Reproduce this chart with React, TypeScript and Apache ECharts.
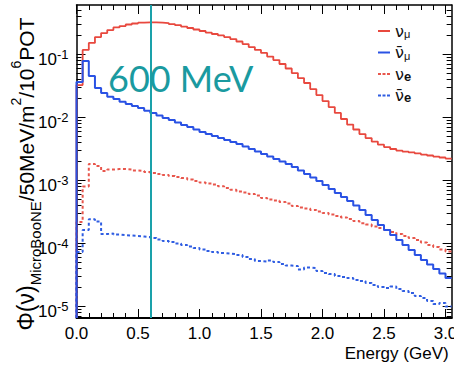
import React, { useEffect, useRef } from 'react';
import * as echarts from 'echarts';

// Flux histograms, 50 MeV bins starting at 0 GeV (values per bin)
const BIN_WIDTH = 0.05;

const NUMU = [
  0.0322, 0.116, 0.150, 0.186, 0.215, 0.240, 0.264, 0.278, 0.294, 0.305,
  0.314, 0.318, 0.318, 0.316, 0.310, 0.299, 0.288, 0.273, 0.259, 0.245,
  0.232, 0.219, 0.208, 0.197, 0.186, 0.173, 0.158, 0.144, 0.129, 0.116,
  0.104, 0.0912, 0.0803, 0.0694, 0.0589, 0.0499, 0.0416, 0.0347, 0.0278, 0.0223,
  0.0179, 0.0144, 0.0116, 0.0093, 0.0076, 0.00634, 0.00537, 0.00464, 0.00408, 0.00366,
  0.00334, 0.00311, 0.00294, 0.00283, 0.00274, 0.00264, 0.00254, 0.00245, 0.00236, 0.00228, 0.00219,
];

const NUMUBAR = [
  0.036, 0.0774, 0.0448, 0.0288, 0.0240, 0.0210, 0.0193, 0.0175, 0.0161, 0.0150,
  0.0139, 0.0126, 0.01157, 0.01056, 0.00964, 0.00896, 0.00818, 0.00747, 0.00694, 0.00634,
  0.00578, 0.00537, 0.00499, 0.00464, 0.00431, 0.00401, 0.00373, 0.00340, 0.00311, 0.00283,
  0.00259, 0.00236, 0.00216, 0.00197, 0.00180, 0.00161, 0.00142, 0.00125, 0.00110, 0.000964,
  0.000834, 0.000720, 0.000622, 0.000537, 0.000464, 0.000394, 0.000334, 0.000278, 0.000232, 0.000193,
  0.000161, 0.000134, 0.000112, 0.0000930, 0.0000774, 0.0000645, 0.0000537, 0.0000456, 0.0000387, 0.0000328, 0.0000278,
];

const NUE = [
  0.000216, 0.000789, 0.001795, 0.001667, 0.001389, 0.001469, 0.001496, 0.001496, 0.001469, 0.001416,
  0.001389, 0.001339, 0.001291, 0.001245, 0.001200, 0.001157, 0.001116, 0.001076, 0.001019, 0.000964,
  0.000913, 0.000880, 0.000849, 0.000795, 0.000745, 0.000700, 0.000657, 0.000633, 0.000599, 0.000567,
  0.000518, 0.000490, 0.000473, 0.000448, 0.000424, 0.000387, 0.000366, 0.000353, 0.000334, 0.000316,
  0.000299, 0.000283, 0.000268, 0.000254, 0.000240, 0.000223, 0.000207, 0.000197, 0.000183, 0.000173,
  0.000161, 0.000150, 0.000139, 0.000129, 0.000120, 0.000112, 0.000102, 0.0000930, 0.0000865, 0.0000789, 0.0000733,
];

const NUEBAR = [
  0.0000719, 0.000161, 0.000238, 0.000219, 0.000139, 0.0001416, 0.0001365, 0.000134, 0.0001315, 0.000129,
  0.0001268, 0.0001245, 0.0001200, 0.0001136, 0.0001076, 0.0001037, 0.0000982, 0.0000930, 0.0000880, 0.0000833,
  0.0000789, 0.0000747, 0.0000719, 0.0000694, 0.0000681, 0.0000669, 0.0000645, 0.0000600, 0.0000557, 0.0000518,
  0.0000508, 0.0000527, 0.0000499, 0.0000464, 0.0000439, 0.0000431, 0.0000380, 0.0000408, 0.0000401, 0.0000359,
  0.0000334, 0.0000322, 0.0000299, 0.0000289, 0.0000278, 0.0000259, 0.0000249, 0.0000232, 0.0000216, 0.0000200,
  0.0000193, 0.0000204, 0.0000186, 0.0000173, 0.0000161, 0.0000144, 0.0000134, 0.0000120, 0.0000108, 0.0000112, 0.0000098,
];

const SERIES_NAMES = ['νμ', 'ν̄μ', 'νe', 'ν̄e'];

const X_MIN = 0;
const X_MAX = 3.05;
const Y_MIN = 6.46e-6;
const Y_MAX = 0.6;

const X_MAJOR = [0, 0.5, 1.0, 1.5, 2.0, 2.5, 3.0];
const X_MINOR = [
  0.1, 0.2, 0.3, 0.4, 0.6, 0.7, 0.8, 0.9, 1.1, 1.2, 1.3, 1.4,
  1.6, 1.7, 1.8, 1.9, 2.1, 2.2, 2.3, 2.4, 2.6, 2.7, 2.8, 2.9,
];
const Y_MAJOR = [1e-5, 1e-4, 1e-3, 1e-2, 1e-1];

const MARKER_ENERGY = 0.6; // GeV
const MARKER_TEXT = '600 MeV';

const FONT = '"Liberation Sans", Arial, Helvetica, sans-serif';
const GREEK_FONT = '"DejaVu Sans", "Liberation Sans", sans-serif';

// 2..9 x 10^n sub-ticks of the log axis
const Y_MINOR: number[] = [];
for (let e = -6; e <= -1; e++) {
  for (let m = 2; m <= 9; m++) {
    const v = m * Math.pow(10, e);
    if (v > Y_MIN && v < Y_MAX) Y_MINOR.push(v);
  }
}

// Histogram outline: rises from the axis floor at 0, one flat step per bin, closed at the last edge
function histogram(values: number[]) {
  const pts: number[][] = [[0, Y_MIN]];
  values.forEach((v, i) => pts.push([i * BIN_WIDTH, v]));
  pts.push([values.length * BIN_WIDTH, values[values.length - 1]]);
  return pts;
}

const LEGEND_TEXT: Record<string, string> = {
  'νμ': '{n|ν}{m|μ}',
  'ν̄μ': '{n|ν̄}{m|μ}',
  'νe': '{n|ν}{e|e}',
  'ν̄e': '{n|ν̄}{e|e}',
};

// legend keys: a short solid stroke and a short dotted stroke
const SOLID_KEY = 'path://M0,0h12v2h-12z';
const DOTTED_KEY = 'path://M0,0h3v2h-3zM4.5,0h3v2h-3zM9,0h3v2h-3z';

function tickAxis(kind: 'x' | 'y', position: string, values: number[], length: number, line: boolean, lineWidth = 1.5) {
  const base: any = {
    type: kind === 'x' ? 'value' : 'log',
    position,
    min: kind === 'x' ? X_MIN : Y_MIN,
    max: kind === 'x' ? X_MAX : Y_MAX,
    axisLine: { show: line, onZero: false, lineStyle: { color: '#000', width: lineWidth } },
    axisTick: { show: true, inside: true, length, customValues: values, lineStyle: { color: '#000', width: 1 } },
    minorTick: { show: false },
    axisLabel: { show: false },
    splitLine: { show: false },
    silent: true,
  };
  if (kind === 'y') base.logBase = 10;
  return base;
}

export default function App() {
  const ref = useRef<HTMLDivElement>(null);

  useEffect(() => {
    if (!ref.current) return;
    const chart = echarts.init(ref.current, undefined, { renderer: 'svg' });

    const xBottom = tickAxis('x', 'bottom', X_MAJOR, 9, true, 2);
    xBottom.axisLabel = {
      show: true,
      customValues: X_MAJOR,
      formatter: (v: number) => v.toFixed(1),
      margin: 7,
      fontSize: 17,
      fontFamily: FONT,
      color: '#000',
    };
    xBottom.name = 'Energy (GeV)';
    xBottom.nameLocation = 'end';
    xBottom.nameGap = -3;
    xBottom.nameMoveOverlap = false;
    xBottom.nameTextStyle = {
      fontSize: 17,
      fontFamily: FONT,
      color: '#000',
      align: 'right',
      verticalAlign: 'top',
      padding: [27, 0, 0, 0],
    };

    const yLeft = tickAxis('y', 'left', Y_MAJOR, 9, true);
    yLeft.axisLabel = {
      show: true,
      customValues: Y_MAJOR,
      margin: 8,
      formatter: (v: number) => `{b|10}{s|${Math.round(Math.log10(v))}}`,
      rich: {
        b: { fontSize: 17, lineHeight: 17, verticalAlign: 'bottom', fontFamily: FONT, color: '#000' },
        s: { fontSize: 13, lineHeight: 27, fontFamily: FONT, color: '#000' },
      },
    };

    const colors = ['#e8483e', '#2a52e4', '#e8564c', '#2f5de2'];
    const dotted = [3, 2.5];
    const seriesData = [NUMU, NUMUBAR, NUE, NUEBAR];

    const series: any[] = seriesData.map((vals, i) => ({
      name: SERIES_NAMES[i],
      type: 'line',
      step: 'end',
      xAxisIndex: 0,
      yAxisIndex: 0,
      data: histogram(vals),
      symbol: 'none',
      showSymbol: false,
      silent: true,
      lineStyle: {
        color: colors[i],
        width: i === 0 ? 1.8 : 2,
        type: i >= 2 ? dotted : 'solid',
      },
      itemStyle: { color: colors[i] },
      emphasis: { disabled: true },
      z: 3 + (i === 1 ? 1 : 0),
    }));

    series[0].markLine = {
      silent: true,
      symbol: ['none', 'none'],
      label: { show: false },
      lineStyle: { color: '#1aa1aa', width: 2, type: 'solid' },
      data: [{ xAxis: MARKER_ENERGY }],
    };

    chart.setOption({
      animation: false,
      backgroundColor: '#fff',
      grid: {
        left: 76.5,
        right: 2.35,
        top: 5,
        bottom: 47,
        containLabel: false,
        outerBoundsMode: 'none',
      },
      xAxis: [
        xBottom,
        tickAxis('x', 'top', X_MAJOR, 9, true),
        tickAxis('x', 'bottom', X_MINOR, 5, false),
        tickAxis('x', 'top', X_MINOR, 5, false),
      ],
      yAxis: [
        yLeft,
        tickAxis('y', 'right', Y_MAJOR, 9, true),
        tickAxis('y', 'left', Y_MINOR, 5, false),
        tickAxis('y', 'right', Y_MINOR, 5, false),
      ],
      legend: {
        orient: 'vertical',
        left: 373,
        top: 18,
        padding: 5,
        itemWidth: 12,
        itemHeight: 2,
        itemGap: 5,
        selectedMode: false,
        data: SERIES_NAMES.map((name, i) => ({ name, icon: i >= 2 ? DOTTED_KEY : SOLID_KEY })),
        formatter: (name: string) => LEGEND_TEXT[name],
        textStyle: {
          color: '#111',
          rich: {
            n: { fontSize: 16, lineHeight: 17, fontFamily: GREEK_FONT, color: '#111' },
            m: { fontSize: 11, lineHeight: 11, verticalAlign: 'bottom', fontFamily: FONT, color: '#111' },
            e: { fontSize: 13, lineHeight: 13, verticalAlign: 'bottom', fontWeight: 'bold', fontFamily: FONT, color: '#111' },
          },
        },
      },
      graphic: [
        {
          type: 'text',
          x: 26,
          y: 174,
          rotation: Math.PI / 2,
          silent: true,
          style: {
            text: '{big|Φ(ν)}{sub|MicroBooNE}{main|/50MeV/m}{sup|2}{main|/10}{sup|6}{main|POT}',
            align: 'center',
            verticalAlign: 'middle',
            fill: '#000',
            rich: {
              big: { fontSize: 23, lineHeight: 34, fontFamily: FONT, fill: '#000' },
              main: { fontSize: 21, lineHeight: 34, fontFamily: FONT, fill: '#000' },
              sub: { fontSize: 15, lineHeight: 15, verticalAlign: 'bottom', fontFamily: FONT, fill: '#000' },
              sup: { fontSize: 14, lineHeight: 14, verticalAlign: 'top', fontFamily: FONT, fill: '#000' },
            },
          },
        },
        {
          type: 'text',
          x: 108,
          y: 78,
          silent: true,
          z: 10,
          style: {
            text: MARKER_TEXT,
            fontFamily: 'Lato',
            fontSize: 36,
            fill: '#1a9aa0',
            align: 'left',
            verticalAlign: 'middle',
          },
        },
      ],
      series,
    });

    return () => chart.dispose();
  }, []);

  return (
    <div
      ref={ref}
      style={{ position: 'absolute', left: 0, top: 0, width: 454, height: 365 }}
    />
  );
}
